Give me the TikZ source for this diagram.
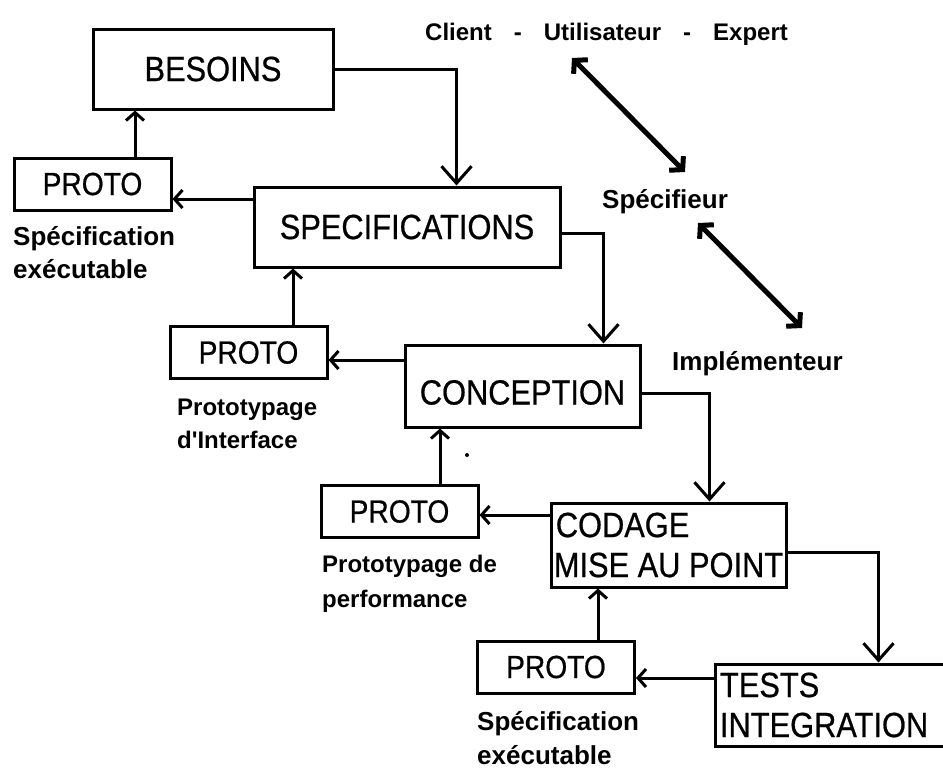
\documentclass[tikz,border=0pt]{standalone}
\usepackage{fontspec}
\setmainfont{Liberation Sans}
\newfontfamily\notefont{Liberation Sans}
\newfontfamily\boxfont[FakeStretch=0.88,FakeBold=0.6]{Liberation Sans}
\usetikzlibrary{arrows.meta}

\tikzset{
  box/.style={draw, line width=3pt, inner sep=0pt, font=\boxfont\fontsize{35}{40}\selectfont},
  protobox/.style={draw, line width=3pt, inner sep=0pt, minimum height=52pt,
                   minimum width=157pt, font=\boxfont\fontsize{32}{36}\selectfont},
  note/.style={anchor=base west, inner sep=0pt, font=\notefont\bfseries\fontsize{26}{30}\selectfont},
  notesmall/.style={anchor=base west, inner sep=0pt, font=\notefont\bfseries\fontsize{24}{28}\selectfont},
  flowdown/.style={line width=3pt, -{Straight Barb[length=17pt,width=30pt]}},
  flowsmall/.style={line width=3pt, -{Straight Barb[length=8pt,width=18pt]}},
  role/.style={line width=5pt, {Straight Barb[length=9pt,width=20pt]}-{Straight Barb[length=9pt,width=20pt]}}
}

\begin{document}
\begin{tikzpicture}[x=1pt,y=-1pt]
\useasboundingbox (0,0) rectangle (943,769);

% main phases
\node[box, minimum width=240pt, minimum height=80pt] (besoins) at (213,69) {BESOINS};
\node[box, minimum width=306pt, minimum height=80pt] (spec) at (407,227) {SPECIFICATIONS};
\node[box, minimum width=235pt, minimum height=82pt, text height=37pt, text depth=0pt]
  (concep) at (522.5,386) {CONCEPTION};
\node[box, minimum width=235pt, minimum height=84pt, align=left]
  (codage) at (668.5,545) {\hspace{2pt}CODAGE\\MISE AU POINT};
\node[box, minimum width=240pt, minimum height=82pt, align=left, text width=230pt]
  (tests) at (835,705) {TESTS\\INTEGRATION};

% prototypes
\node[protobox] (proto1) at (92.5,184) {PROTO};
\node[protobox] (proto2) at (248.5,352.5) {PROTO};
\node[protobox] (proto3) at (399.5,511.5) {PROTO};
\node[protobox] (proto4) at (556,667) {PROTO};

% prototype captions
\node[note] (l1a) at (13,245) {Spécification};
\node[note] (l1b) at (13,278) {exécutable};
\node[notesmall] (l2a) at (177,415) {Prototypage};
\node[notesmall] (l2b) at (177,448) {d'Interface};
\node[notesmall] (l3a) at (322,572) {Prototypage de};
\node[notesmall] (l3b) at (322,607) {performance};
\node[note] (l4a) at (477,730) {Spécification};
\node[note] (l4b) at (477,764) {exécutable};

% actors
\node[anchor=base west, inner sep=0pt, font=\notefont\bfseries\fontsize{24}{28}\selectfont] (client)
  at (425,40) {Client\hspace{22pt}-\hspace{22pt}Utilisateur\hspace{22pt}-\hspace{22pt}Expert};
\node[note] (specifieur) at (602,208) {Spécifieur};
\node[note] (implementeur) at (672,370) {Implémenteur};

\coordinate (c1a) at (572,58);
\coordinate (c1b) at (685,172);
\coordinate (c2a) at (698,223);
\coordinate (c2b) at (802,328);
\draw[role] (c1a) -- (c1b);
\draw[role] (c2a) -- (c2b);

% waterfall flow
\draw[flowdown] (besoins.east) -| ([xshift=204pt]spec.north west);
\draw[flowdown] ([yshift=-6pt]spec.east) -| ([xshift=200pt]concep.north west);
\draw[flowdown] ([yshift=-7pt]concep.east) -| ([xshift=160pt]codage.north west);
\draw[flowdown] ([yshift=-7pt]codage.east) -| ([xshift=165pt]tests.north west);

% phase -> prototype
\coordinate (s1) at ([yshift=28pt]spec.west);
\coordinate (s2) at ([yshift=26pt]concep.west);
\coordinate (s3) at ([yshift=30pt]codage.west);
\coordinate (s4) at ([yshift=27pt]tests.west);
\draw[flowsmall] (s1) -- (s1 -| proto1.east);
\draw[flowsmall] (s2) -- (s2 -| proto2.east);
\draw[flowsmall] (s3) -- (s3 -| proto3.east);
\draw[flowsmall] (s4) -- (s4 -| proto4.east);

% prototype -> previous phase
\coordinate (p1) at ([xshift=42.5pt]proto1.north);
\coordinate (p2) at ([xshift=44.5pt]proto2.north);
\coordinate (p3) at ([xshift=40.5pt]proto3.north);
\coordinate (p4) at ([xshift=42pt]proto4.north);
\draw[flowsmall] (p1) -- (p1 |- besoins.south);
\draw[flowsmall] (p2) -- (p2 |- spec.south);
\draw[flowsmall] (p3) -- (p3 |- concep.south);
\draw[flowsmall] (p4) -- (p4 |- codage.south);

\fill (467,455) circle (2pt);
\end{tikzpicture}
\end{document}
